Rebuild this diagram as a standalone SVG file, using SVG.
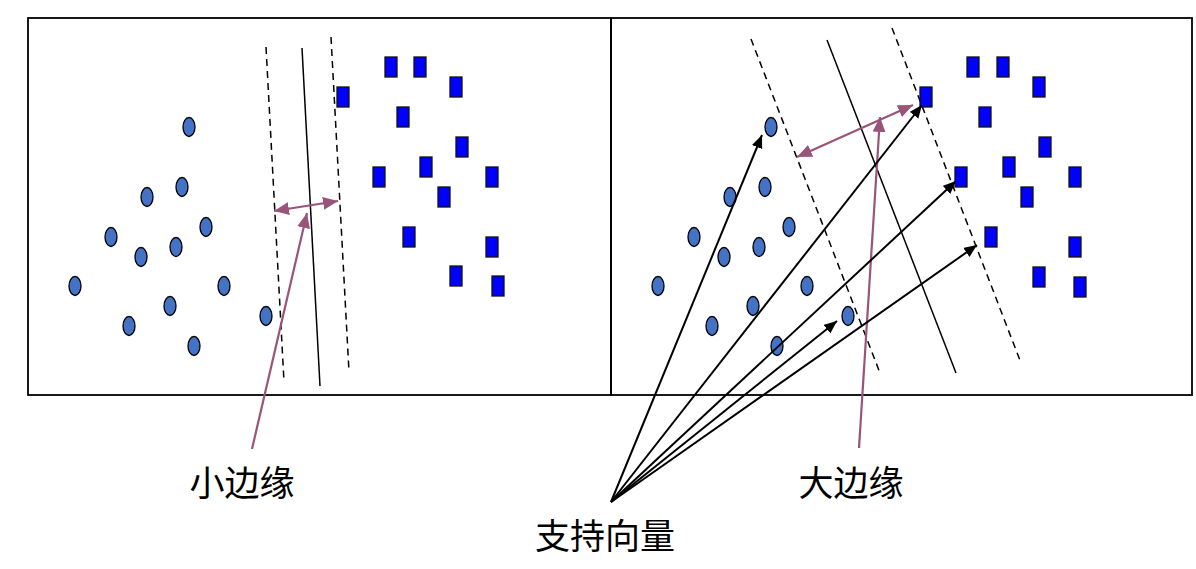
<svg xmlns="http://www.w3.org/2000/svg" width="1196" height="569" viewBox="0 0 1196 569">
<style>
.frame{fill:none;stroke:#000;stroke-width:1.8}
.c{fill:#4472C4;stroke:#000;stroke-width:1.3}
.s{fill:#0000FF;stroke:#111;stroke-width:1.3}
.dash{stroke:#000;stroke-width:1.5;stroke-dasharray:7,5;fill:none}
.solid{stroke:#000;stroke-width:1.5;fill:none}
.sv{stroke:#000;stroke-width:2;fill:none;marker-end:url(#ab)}
.pk{stroke:#985579;stroke-width:2.2;fill:none}
.lbl{font-family:"Noto Sans CJK SC","Noto Sans",sans-serif;font-size:35px;fill:#000;text-anchor:middle}
</style>
<defs>
<marker id="ab" markerUnits="userSpaceOnUse" markerWidth="14" markerHeight="12" refX="13" refY="5.5" orient="auto"><path d="M0,0 L13,5.5 L0,11 z" fill="#000"/></marker>
<marker id="ap" markerUnits="userSpaceOnUse" markerWidth="16" markerHeight="14" refX="15" refY="6.5" orient="auto-start-reverse"><path d="M0,0 L15,6.5 L0,13 z" fill="#985579"/></marker>
</defs>
<g id="frames">
<rect class="frame" x="28" y="18" width="583" height="377"/>
<rect class="frame" x="611" y="18" width="581" height="377"/>
</g>
<g id="left-hyperplanes">
<line class="dash" x1="266" y1="47" x2="284" y2="382"/>
<line class="solid" x1="302" y1="48" x2="320" y2="386"/>
<line class="dash" x1="331" y1="37" x2="349" y2="372"/>
</g>
<g id="right-hyperplanes">
<line class="dash" x1="751" y1="39" x2="880" y2="373"/>
<line class="solid" x1="827" y1="40" x2="956" y2="373"/>
<line class="dash" x1="892" y1="28" x2="1021" y2="363"/>
</g>
<g id="left-circles">
<ellipse class="c" cx="189" cy="127" rx="6" ry="9.5"/>
<ellipse class="c" cx="182" cy="187" rx="6" ry="9.5"/>
<ellipse class="c" cx="147" cy="197" rx="6" ry="9.5"/>
<ellipse class="c" cx="206" cy="227" rx="6" ry="9.5"/>
<ellipse class="c" cx="111" cy="237" rx="6" ry="9.5"/>
<ellipse class="c" cx="176" cy="247" rx="6" ry="9.5"/>
<ellipse class="c" cx="141" cy="257" rx="6" ry="9.5"/>
<ellipse class="c" cx="75" cy="286" rx="6" ry="9.5"/>
<ellipse class="c" cx="224" cy="286" rx="6" ry="9.5"/>
<ellipse class="c" cx="170" cy="306" rx="6" ry="9.5"/>
<ellipse class="c" cx="266" cy="316" rx="6" ry="9.5"/>
<ellipse class="c" cx="129" cy="326" rx="6" ry="9.5"/>
<ellipse class="c" cx="194" cy="346" rx="6" ry="9.5"/>
</g>
<g id="left-squares">
<rect class="s" x="337" y="87" width="12" height="20"/>
<rect class="s" x="385" y="57" width="12" height="20"/>
<rect class="s" x="414" y="57" width="12" height="20"/>
<rect class="s" x="450" y="77" width="12" height="20"/>
<rect class="s" x="397" y="107" width="12" height="20"/>
<rect class="s" x="456" y="137" width="12" height="20"/>
<rect class="s" x="420" y="157" width="12" height="20"/>
<rect class="s" x="373" y="167" width="12" height="20"/>
<rect class="s" x="486" y="167" width="12" height="20"/>
<rect class="s" x="438" y="187" width="12" height="20"/>
<rect class="s" x="403" y="227" width="12" height="20"/>
<rect class="s" x="486" y="237" width="12" height="20"/>
<rect class="s" x="450" y="266" width="12" height="20"/>
<rect class="s" x="492" y="276" width="12" height="20"/>
</g>
<g id="right-circles">
<ellipse class="c" cx="771" cy="127" rx="6" ry="9.5"/>
<ellipse class="c" cx="765" cy="187" rx="6" ry="9.5"/>
<ellipse class="c" cx="730" cy="197" rx="6" ry="9.5"/>
<ellipse class="c" cx="789" cy="227" rx="6" ry="9.5"/>
<ellipse class="c" cx="694" cy="237" rx="6" ry="9.5"/>
<ellipse class="c" cx="759" cy="247" rx="6" ry="9.5"/>
<ellipse class="c" cx="724" cy="257" rx="6" ry="9.5"/>
<ellipse class="c" cx="658" cy="286" rx="6" ry="9.5"/>
<ellipse class="c" cx="807" cy="286" rx="6" ry="9.5"/>
<ellipse class="c" cx="753" cy="306" rx="6" ry="9.5"/>
<ellipse class="c" cx="848" cy="316" rx="6" ry="9.5"/>
<ellipse class="c" cx="712" cy="326" rx="6" ry="9.5"/>
<ellipse class="c" cx="777" cy="346" rx="6" ry="9.5"/>
</g>
<g id="right-squares">
<rect class="s" x="920" y="87" width="12" height="20"/>
<rect class="s" x="967" y="57" width="12" height="20"/>
<rect class="s" x="997" y="57" width="12" height="20"/>
<rect class="s" x="1033" y="77" width="12" height="20"/>
<rect class="s" x="979" y="107" width="12" height="20"/>
<rect class="s" x="1039" y="137" width="12" height="20"/>
<rect class="s" x="1003" y="157" width="12" height="20"/>
<rect class="s" x="955" y="167" width="12" height="20"/>
<rect class="s" x="1069" y="167" width="12" height="20"/>
<rect class="s" x="1021" y="187" width="12" height="20"/>
<rect class="s" x="985" y="227" width="12" height="20"/>
<rect class="s" x="1069" y="237" width="12" height="20"/>
<rect class="s" x="1033" y="267" width="12" height="20"/>
<rect class="s" x="1074" y="277" width="12" height="20"/>
</g>
<g id="connectors">
<line class="pk" x1="274" y1="211" x2="338" y2="201" marker-start="url(#ap)" marker-end="url(#ap)"/>
<line class="pk" x1="252" y1="449" x2="307" y2="213" marker-end="url(#ap)"/>
<line class="pk" x1="797" y1="157" x2="913" y2="105" marker-start="url(#ap)" marker-end="url(#ap)"/>
<line class="pk" x1="859" y1="448" x2="880" y2="117" marker-end="url(#ap)"/>
<line class="sv" x1="611" y1="502" x2="762" y2="135"/>
<line class="sv" x1="611" y1="502" x2="922" y2="105"/>
<line class="sv" x1="611" y1="502" x2="956" y2="181"/>
<line class="sv" x1="611" y1="502" x2="977" y2="245"/>
<line class="sv" x1="611" y1="502" x2="837" y2="321"/>
</g>
<g id="labels">
<text class="lbl" x="242" y="496">小边缘</text>
<text class="lbl" x="851" y="496">大边缘</text>
<text class="lbl" x="605" y="549">支持向量</text>
</g>
</svg>
